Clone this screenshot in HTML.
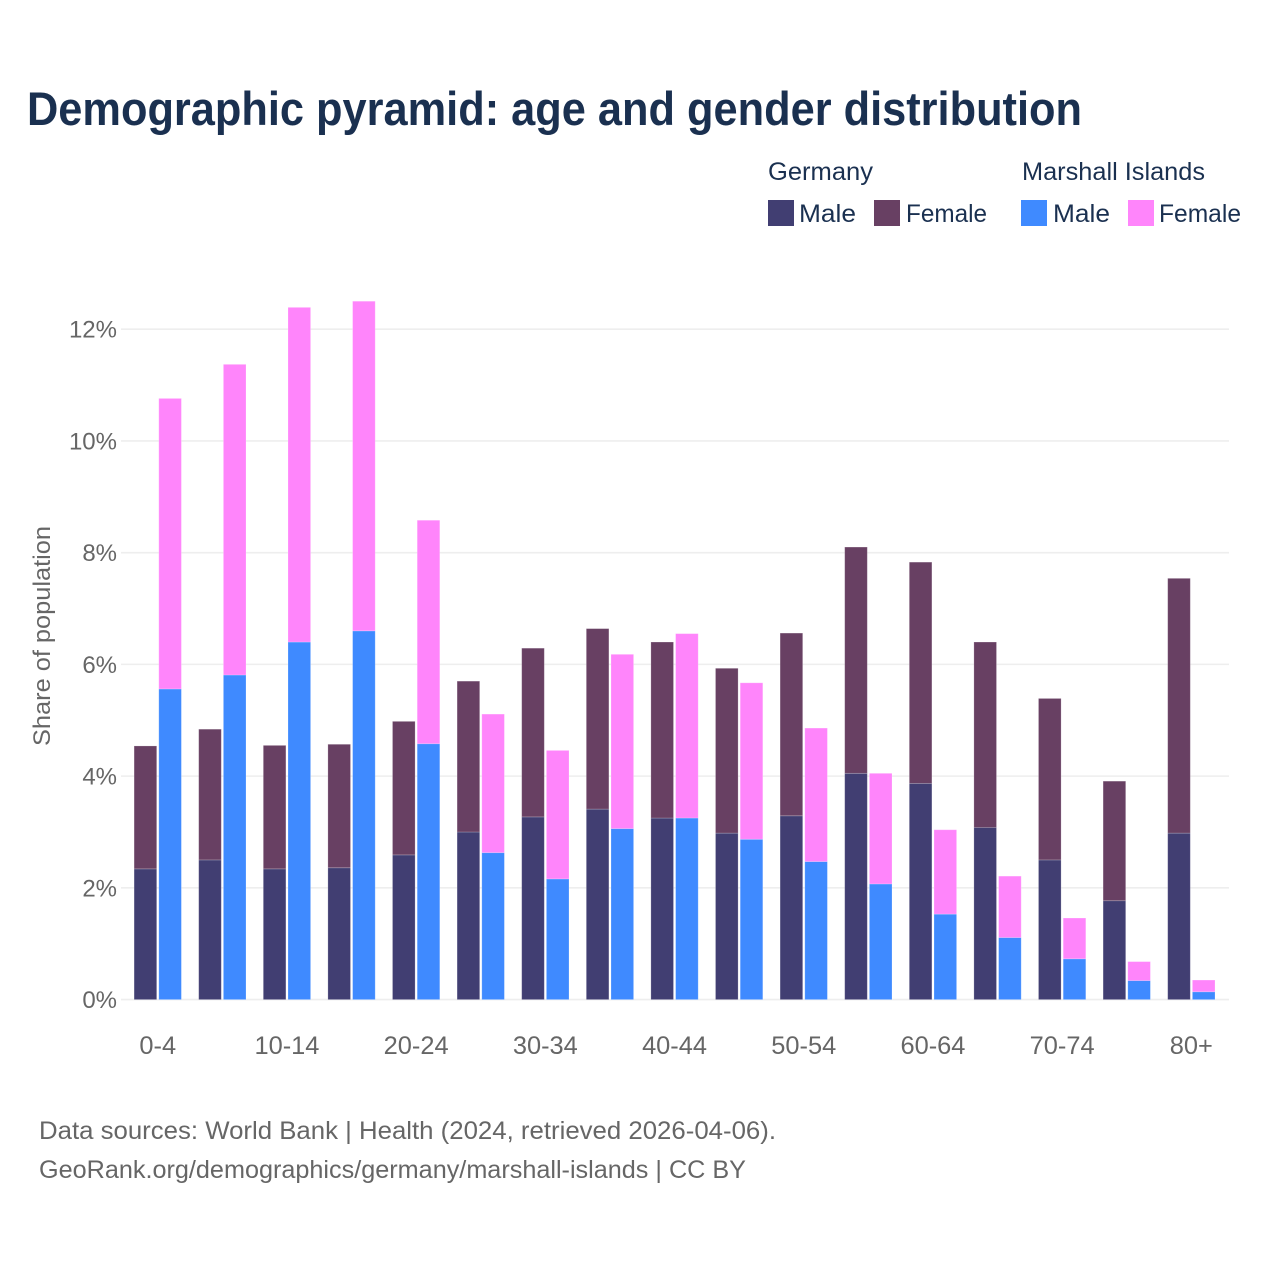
<!DOCTYPE html>
<html lang="en">
<head>
<meta charset="utf-8">
<title>Demographic pyramid: age and gender distribution</title>
<style>
html,body{margin:0;padding:0;background:#fff;}
svg{display:block;font-family:"Liberation Sans",sans-serif;}
</style>
</head>
<body>
<svg id="chart" xmlns="http://www.w3.org/2000/svg" width="1280" height="1280" viewBox="0 0 1280 1280">
  <rect x="0" y="0" width="1280" height="1280" fill="#ffffff"/>
  <text x="27" y="125" font-size="47" font-weight="700" fill="#1a3050" textLength="1055" lengthAdjust="spacingAndGlyphs">Demographic pyramid: age and gender distribution</text>

  <g font-size="25" fill="#1a3050">
    <text x="768" y="180" textLength="105" lengthAdjust="spacingAndGlyphs">Germany</text>
    <text x="1022" y="180" textLength="183" lengthAdjust="spacingAndGlyphs">Marshall Islands</text>
    <rect x="768" y="200" width="26" height="26" fill="#413e72"/>
    <text x="799" y="222" textLength="57" lengthAdjust="spacingAndGlyphs">Male</text>
    <rect x="874" y="200" width="26" height="26" fill="#684063"/>
    <text x="906" y="222" textLength="81" lengthAdjust="spacingAndGlyphs">Female</text>
    <rect x="1021" y="200" width="26" height="26" fill="#3f8aff"/>
    <text x="1053" y="222" textLength="57" lengthAdjust="spacingAndGlyphs">Male</text>
    <rect x="1128" y="200" width="26" height="26" fill="#ff85fb"/>
    <text x="1159" y="222" textLength="82" lengthAdjust="spacingAndGlyphs">Female</text>
  </g>

  <g id="grid"></g>
  <g id="yticks"></g>
  <g id="bars"></g>
  <g id="xticks"></g>

  <text transform="translate(50 636) rotate(-90)" text-anchor="middle" font-size="24" fill="#666666" textLength="220" lengthAdjust="spacingAndGlyphs">Share of population</text>

  <g font-size="25" fill="#666666">
    <text x="39" y="1139" textLength="737" lengthAdjust="spacingAndGlyphs">Data sources: World Bank | Health (2024, retrieved 2026-04-06).</text>
    <text x="39" y="1178" textLength="707" lengthAdjust="spacingAndGlyphs">GeoRank.org/demographics/germany/marshall-islands | CC BY</text>
  </g>
</svg>
<script>
const categories = ["0-4","5-9","10-14","15-19","20-24","25-29","30-34","35-39","40-44","45-49","50-54","55-59","60-64","65-69","70-74","75-79","80+"];
const germanyMale = [2.34,2.50,2.34,2.36,2.59,3.00,3.27,3.41,3.25,2.98,3.29,4.05,3.87,3.08,2.50,1.77,2.98];
const germanyFemale = [2.20,2.34,2.21,2.21,2.39,2.70,3.02,3.23,3.15,2.95,3.27,4.05,3.96,3.32,2.89,2.14,4.56];
const marshallMale = [5.56,5.81,6.40,6.60,4.58,2.63,2.16,3.06,3.25,2.87,2.47,2.07,1.53,1.11,0.73,0.34,0.14];
const marshallFemale = [5.20,5.56,5.99,5.90,4.00,2.48,2.30,3.12,3.30,2.80,2.39,1.98,1.51,1.10,0.73,0.34,0.21];
const yTicks = [0,2,4,6,8,10,12];

const svgNS = "http://www.w3.org/2000/svg";
const plotLeft = 121, plotRight = 1229;
const yZero = 999.6, pxPerUnit = 55.87;
const bandStart = 134.1, bandStep = 64.6, barWidth = 22.6, barOffset = 24.7;

function yScale(v) { return yZero - v * pxPerUnit; }
function xBand(i) { return bandStart + i * bandStep; }

function make(tag, attrs, parent) {
  const el = document.createElementNS(svgNS, tag);
  for (const k in attrs) el.setAttribute(k, attrs[k]);
  parent.appendChild(el);
  return el;
}

const gridGroup = document.getElementById("grid");
const yTickGroup = document.getElementById("yticks");
yTicks.forEach(function (t) {
  const line = make("line", {x1: plotLeft, x2: plotRight, y1: yScale(t), y2: yScale(t), stroke: "#eeeeee", "stroke-width": 1.6}, gridGroup);
  
  
  const label = make("text", {x: 117, y: yScale(t) + 8.5, "text-anchor": "end", "font-size": 24, fill: "#666666"}, yTickGroup);
  
  
  label.textContent = t + "%";
});

const barGroup = document.getElementById("bars");
function drawBar(x, base, value, color) {
  const top = yScale(base + value);
  const bar = make("rect", {x: x, y: top, width: barWidth, height: yScale(base) - top, fill: color, stroke: "#ffffff", "stroke-opacity": 0.25, "stroke-width": 0.8}, barGroup);
  
  
}
categories.forEach(function (c, i) {
  const x0 = xBand(i), x1 = x0 + barOffset;
  drawBar(x0, 0, germanyMale[i], "#413e72");
  drawBar(x0, germanyMale[i], germanyFemale[i], "#684063");
  drawBar(x1, 0, marshallMale[i], "#3f8aff");
  drawBar(x1, marshallMale[i], marshallFemale[i], "#ff85fb");
});

const xTickGroup = document.getElementById("xticks");
categories.forEach(function (c, i) {
  if (i % 2 !== 0) return;
  const label = make("text", {x: xBand(i) + (barOffset + barWidth) / 2, y: 1054, "text-anchor": "middle", "font-size": 25.4, fill: "#666666"}, xTickGroup);
  
  
  label.textContent = c;
});
</script>
</body>
</html>
